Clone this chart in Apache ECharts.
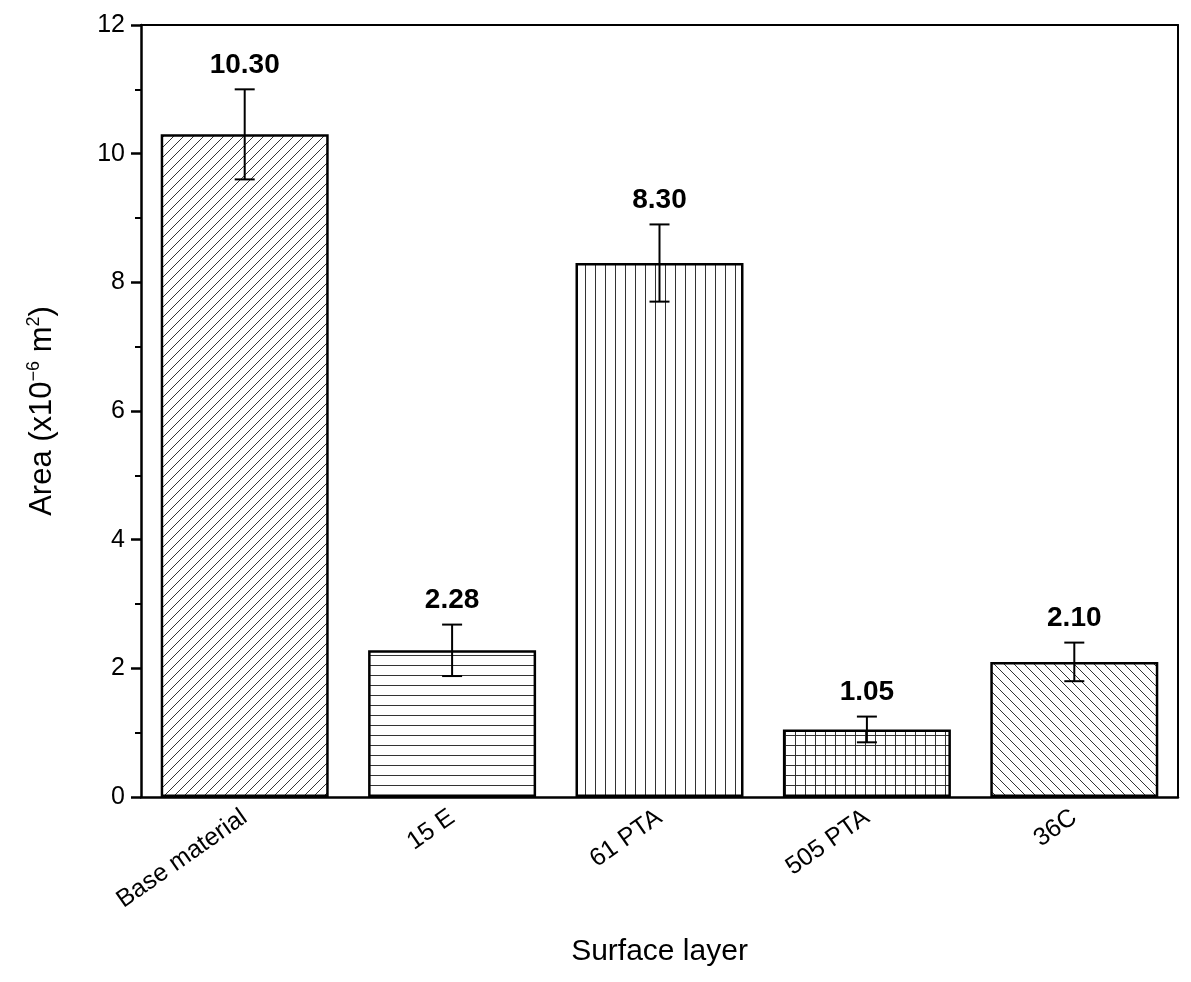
<!DOCTYPE html>
<html>
<head>
<meta charset="utf-8">
<script src="https://cdn.jsdelivr.net/npm/echarts@6/dist/echarts.min.js"></script>
<style>html,body{margin:0;padding:0;background:#fff}#main{width:1191px;height:982px}</style>
</head>
<body>
<div id="main"></div>
<script>
var categories = ['Base material', '15 E', '61 PTA', '505 PTA', '36C'];
var values = [10.30, 2.28, 8.30, 1.05, 2.10];
var errLow = [9.6, 1.88, 7.7, 0.85, 1.8];
var errHigh = [11.0, 2.68, 8.9, 1.25, 2.4];
var patterns = ['diag', 'horiz', 'vert', 'grid', 'back'];

function makePattern(kind) {
    var s = 10;
    var c = document.createElement('canvas');
    c.width = s; c.height = s;
    var g = c.getContext('2d');
    g.fillStyle = '#fff';
    g.fillRect(0, 0, s, s);
    g.strokeStyle = '#333';
    g.lineWidth = 1;
    g.beginPath();
    if (kind == 'diag') {
        g.moveTo(0, s); g.lineTo(s, 0);
        g.moveTo(-1, 1); g.lineTo(1, -1);
        g.moveTo(s - 1, s + 1); g.lineTo(s + 1, s - 1);
    } else if (kind == 'back') {
        g.moveTo(0, 0); g.lineTo(s, s);
        g.moveTo(-1, s - 1); g.lineTo(1, s + 1);
        g.moveTo(s - 1, -1); g.lineTo(s + 1, 1);
    } else if (kind == 'horiz') {
        g.moveTo(0, 5.5); g.lineTo(s, 5.5);
    } else if (kind == 'vert') {
        g.moveTo(5.5, 0); g.lineTo(5.5, s);
    } else {
        g.moveTo(0, 5.5); g.lineTo(s, 5.5);
        g.moveTo(5.5, 0); g.lineTo(5.5, s);
    }
    g.stroke();
    return c;
}

var myChart = echarts.init(document.getElementById('main'));
var barData = values.map(function (v, i) {
    return {
        value: v,
        itemStyle: { color: { image: makePattern(patterns[i]), repeat: 'repeat' } }
    };
});
var errData = categories.map(function (c, i) { return [i, errLow[i], errHigh[i], values[i]]; });

var font = 'Arial, Liberation Sans, sans-serif';
option = {
    animation: false,
    grid: { left: 141, right: 13, top: 25, bottom: 185 },
    xAxis: [{
        type: 'category',
        data: categories,
        axisLine: { lineStyle: { color: '#000', width: 2.5 } },
        axisTick: { alignWithLabel: true, length: 10, lineStyle: { color: '#000', width: 2.5 } },
        axisLabel: { rotate: 35, color: '#000', fontSize: 25, fontFamily: font, margin: 18 },
        name: 'Surface layer',
        nameLocation: 'middle',
        nameGap: 140,
        nameTextStyle: { fontSize: 30, color: '#000', fontFamily: font }
    }, {
        type: 'category', data: categories, position: 'top',
        axisLine: { show: true, onZero: false, lineStyle: { color: '#000', width: 2 } },
        axisTick: { show: false }, axisLabel: { show: false }
    }],
    yAxis: [{
        type: 'value', min: 0, max: 12, interval: 2,
        axisLine: { show: true, lineStyle: { color: '#000', width: 2.5 } },
        axisTick: { show: true, length: 10, lineStyle: { color: '#000', width: 2.5 } },
        minorTick: { show: true, splitNumber: 2, length: 6, lineStyle: { color: '#000', width: 2 } },
        splitLine: { show: false },
        axisLabel: { color: '#000', fontSize: 25, fontFamily: font, margin: 16 },
        name: 'Area (x10{s|−6} m{s|2})',
        nameLocation: 'middle',
        nameGap: 82,
        nameTextStyle: { fontSize: 31, color: '#000', fontFamily: font, rich: { s: { fontSize: 18, verticalAlign: 'top', padding: [0, 0, 16, 0], fontFamily: font } } }
    }, {
        type: 'value', min: 0, max: 12, interval: 2, position: 'right',
        axisLine: { show: true, lineStyle: { color: '#000', width: 2 } },
        axisTick: { show: false }, axisLabel: { show: false }, splitLine: { show: false }
    }],
    series: [{
        type: 'bar',
        data: barData,
        barWidth: '81%',
        itemStyle: { borderColor: '#000', borderWidth: 2.5 }
    }, {
        type: 'custom',
        data: errData,
        z: 10,
        renderItem: function (params, api) {
            var x = api.coord([api.value(0), 0])[0];
            var lo = api.coord([api.value(0), api.value(1)])[1];
            var hi = api.coord([api.value(0), api.value(2)])[1];
            var w = 10;
            var st = { stroke: '#000', lineWidth: 2 };
            return {
                type: 'group',
                children: [
                    { type: 'line', shape: { x1: x, y1: lo, x2: x, y2: hi }, style: st },
                    { type: 'line', shape: { x1: x - w, y1: lo, x2: x + w, y2: lo }, style: st },
                    { type: 'line', shape: { x1: x - w, y1: hi, x2: x + w, y2: hi }, style: st },
                    { type: 'text', x: x, y: hi - 10, style: { text: api.value(3).toFixed(2), fill: '#000', font: 'bold 28px ' + font, textAlign: 'center', textVerticalAlign: 'bottom' } }
                ]
            };
        }
    }]
};
myChart.setOption(option);
</script>
</body>
</html>
